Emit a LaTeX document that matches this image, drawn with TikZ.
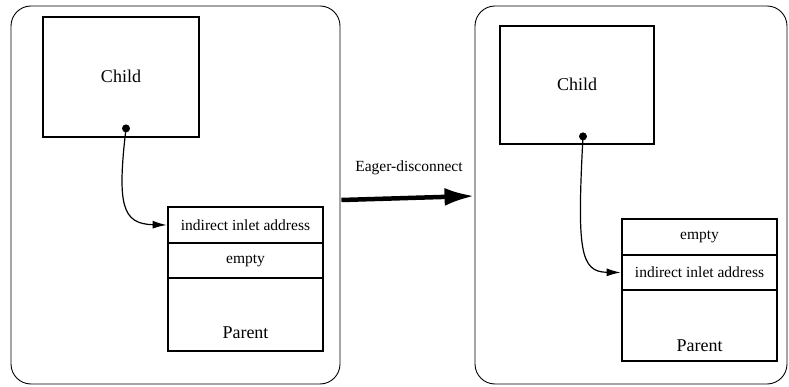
\documentclass[tikz,border=0pt]{standalone}
\usepackage{fontspec}
\setmainfont{Liberation Serif}
\usetikzlibrary{arrows.meta,calc}
\begin{document}
\begin{tikzpicture}[x=1pt,y=-1pt,
  frame/.style={draw,rounded corners=20pt,line width=0.9pt,minimum width=#1,inner sep=0pt},
  block/.style={draw,line width=2.8pt,inner sep=0pt},
  cell/.style={inner sep=0pt,minimum width=155pt,font=\fontsize{15.5}{18}\selectfont},
  bigtext/.style={font=\fontsize{18}{21}\selectfont},
  link/.style={line width=1.2pt,-{Latex[length=14pt,width=8pt]}},
  pin/.style={fill,circle,inner sep=0pt,minimum size=8pt}]
\useasboundingbox (0,0) rectangle (789,387);

% left state
\node[frame=329pt,minimum height=378pt] (outerL) at (175.5,195) {};
\node[block,minimum width=156pt,minimum height=120pt] (childL) at (121,77) {};
\node[bigtext] (childLtxt) at (121,76) {Child};
\node[block,minimum width=155pt,minimum height=144pt] (parentL) at (245.5,279) {};
\node[cell] (addrL) at (245.5,225) {indirect inlet address};
\node[cell] (emptyL) at (245.5,260.5) {empty};
\node[bigtext] (parentLtxt) at (245.5,333) {Parent};
\draw[line width=1.2pt] (parentL.west |- 0,243) -- (parentL.east |- 0,243);
\draw[line width=1.2pt] (parentL.west |- 0,278) -- (parentL.east |- 0,278);
\coordinate (srcL) at ($(childL.south)+(5,-10)$);
\node[pin] (dotL) at (srcL) {};
\draw[link] (srcL) .. controls (117,205) and (122,224) .. (addrL.west -| parentL.west);

% right state
\node[frame=312pt,minimum height=378pt] (outerR) at (631,195) {};
\node[block,minimum width=154pt,minimum height=118pt] (childR) at (577,85) {};
\node[bigtext] (childRtxt) at (577,84) {Child};
\node[block,minimum width=155pt,minimum height=142pt] (parentR) at (699.5,290) {};
\node[cell] (emptyR) at (699.5,237) {empty};
\node[cell] (addrR) at (699.5,272.5) {indirect inlet address};
\node[bigtext] (parentRtxt) at (699.5,346) {Parent};
\draw[line width=1.2pt] (parentR.west |- 0,255) -- (parentR.east |- 0,255);
\draw[line width=1.2pt] (parentR.west |- 0,290) -- (parentR.east |- 0,290);
\coordinate (srcR) at ($(childR.south)+(6,-9)$);
\node[pin] (dotR) at (srcR) {};
\draw[link] (srcR) .. controls (577,250) and (580,272) .. (addrR.west -| parentR.west);

% transition between the two states
\draw[line width=4.5pt,-{Latex[length=30pt,width=18pt]}]
  ($(outerL.east)+(1,5)$) -- ($(outerR.west)+(0,1)$);
\node[font=\fontsize{15.5}{18}\selectfont] (eager) at (409,168) {Eager-disconnect};
\end{tikzpicture}
\end{document}
